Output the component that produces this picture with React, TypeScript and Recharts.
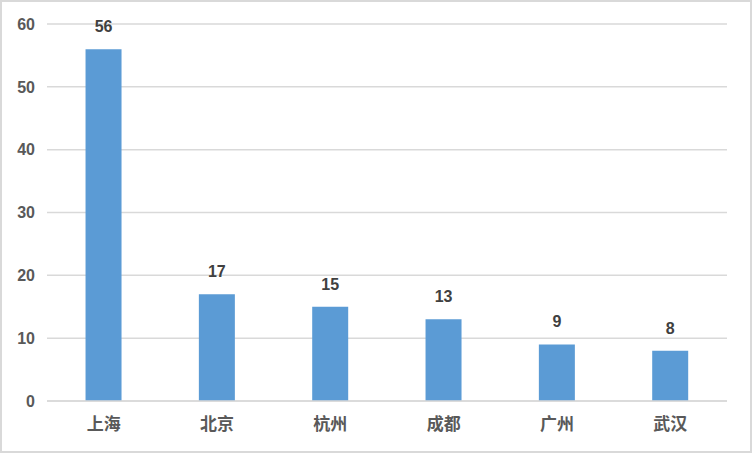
import { BarChart, Bar, XAxis, YAxis, CartesianGrid, LabelList } from "recharts";

const cities = ["上海", "北京", "杭州", "成都", "广州", "武汉"];
const counts = [56, 17, 15, 13, 9, 8];
const yTicks = [0, 10, 20, 30, 40, 50, 60];

const data = cities.map((city, i) => ({ city, count: counts[i] }));

const App = () => {
  return (
    <div style={{ position: "absolute", left: 0, top: 0, width: 752, height: 453, background: "#fff" }}>
      <BarChart
        width={752}
        height={453}
        data={data}
        margin={{ top: 24, right: 25, bottom: 22, left: 0 }}
        barCategoryGap="34%"
      >
        <CartesianGrid vertical={false} stroke="#d9d9d9" strokeWidth={1.5} />
        <XAxis
          dataKey="city"
          height={30}
          axisLine={{ stroke: "#d9d9d9", strokeWidth: 1.5 }}
          tickLine={false}
          tickMargin={11}
          tick={{ fill: "#595959", fontSize: 17, fontWeight: 700, fontFamily: "'Noto Sans CJK SC', sans-serif" }}
        />
        <YAxis
          width={47}
          domain={[0, 60]}
          ticks={yTicks}
          axisLine={false}
          tickLine={false}
          tickMargin={6}
          tick={{ fill: "#595959", fontSize: 16, fontWeight: 700, fontFamily: "'Liberation Sans', Arial, sans-serif" }}
        />
        <Bar dataKey="count" fill="#5b9bd5" isAnimationActive={false}>
          <LabelList
            dataKey="count"
            position="top"
            offset={17}
            fill="#404040"
            fontSize={16}
            fontWeight={700}
            fontFamily="'Liberation Sans', Arial, sans-serif"
          />
        </Bar>
      </BarChart>
      <div
        style={{
          position: "absolute",
          left: 0,
          top: 0,
          width: 752,
          height: 453,
          boxSizing: "border-box",
          border: "2px solid #d9d9d9",
          pointerEvents: "none",
        }}
      />
    </div>
  );
};

export default App;
